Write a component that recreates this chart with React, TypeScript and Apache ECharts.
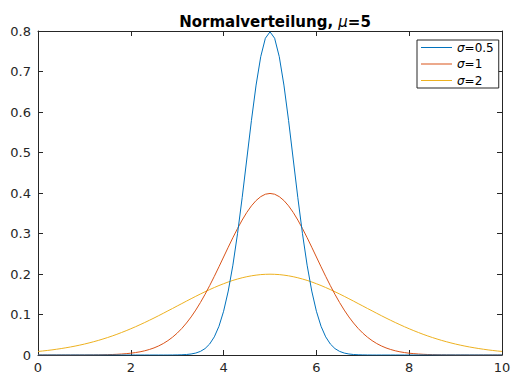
import React, { useEffect, useRef } from "react";
import * as echarts from "echarts";

const xs = [
  0.0, 0.1, 0.2, 0.3, 0.4, 0.5, 0.6, 0.7, 0.8, 0.9,
  1.0, 1.1, 1.2, 1.3, 1.4, 1.5, 1.6, 1.7, 1.8, 1.9,
  2.0, 2.1, 2.2, 2.3, 2.4, 2.5, 2.6, 2.7, 2.8, 2.9,
  3.0, 3.1, 3.2, 3.3, 3.4, 3.5, 3.6, 3.7, 3.8, 3.9,
  4.0, 4.1, 4.2, 4.3, 4.4, 4.5, 4.6, 4.7, 4.8, 4.9,
  5.0,
  5.1, 5.2, 5.3, 5.4, 5.5, 5.6, 5.7, 5.8, 5.9, 6.0,
  6.1, 6.2, 6.3, 6.4, 6.5, 6.6, 6.7, 6.8, 6.9, 7.0,
  7.1, 7.2, 7.3, 7.4, 7.5, 7.6, 7.7, 7.8, 7.9, 8.0,
  8.1, 8.2, 8.3, 8.4, 8.5, 8.6, 8.7, 8.8, 8.9, 9.0,
  9.1, 9.2, 9.3, 9.4, 9.5, 9.6, 9.7, 9.8, 9.9, 10.0,
];

const sigma05 = [
  0, 0, 0, 0, 0, 0, 0, 0, 0, 0,
  0, 0, 0, 0, 0, 0, 0, 0, 0, 0,
  0, 0, 0, 0, 0, 0, 0, 0, 0, 0.0001,
  0.0003, 0.0006, 0.0012, 0.0025, 0.0048, 0.0089, 0.0158, 0.0272, 0.0448, 0.0709,
  0.108, 0.1579, 0.2218, 0.2995, 0.3884, 0.4839, 0.5794, 0.6665, 0.7365, 0.7821,
  0.7979,
  0.7821, 0.7365, 0.6665, 0.5794, 0.4839, 0.3884, 0.2995, 0.2218, 0.1579, 0.108,
  0.0709, 0.0448, 0.0272, 0.0158, 0.0089, 0.0048, 0.0025, 0.0012, 0.0006, 0.0003,
  0.0001, 0, 0, 0, 0, 0, 0, 0, 0, 0,
  0, 0, 0, 0, 0, 0, 0, 0, 0, 0,
  0, 0, 0, 0, 0, 0, 0, 0, 0, 0,
];

const sigma1 = [
  0, 0, 0, 0, 0, 0, 0, 0, 0.0001, 0.0001,
  0.0001, 0.0002, 0.0003, 0.0004, 0.0006, 0.0009, 0.0012, 0.0017, 0.0024, 0.0033,
  0.0044, 0.006, 0.0079, 0.0104, 0.0136, 0.0175, 0.0224, 0.0283, 0.0355, 0.044,
  0.054, 0.0656, 0.079, 0.094, 0.1109, 0.1295, 0.1497, 0.1714, 0.1942, 0.2179,
  0.242, 0.2661, 0.2897, 0.3123, 0.3332, 0.3521, 0.3683, 0.3814, 0.391, 0.397,
  0.3989,
  0.397, 0.391, 0.3814, 0.3683, 0.3521, 0.3332, 0.3123, 0.2897, 0.2661, 0.242,
  0.2179, 0.1942, 0.1714, 0.1497, 0.1295, 0.1109, 0.094, 0.079, 0.0656, 0.054,
  0.044, 0.0355, 0.0283, 0.0224, 0.0175, 0.0136, 0.0104, 0.0079, 0.006, 0.0044,
  0.0033, 0.0024, 0.0017, 0.0012, 0.0009, 0.0006, 0.0004, 0.0003, 0.0002, 0.0001,
  0.0001, 0.0001, 0, 0, 0, 0, 0, 0, 0, 0,
];

const sigma2 = [
  0.0088, 0.0099, 0.0112, 0.0126, 0.0142, 0.0159, 0.0178, 0.0198, 0.022, 0.0244,
  0.027, 0.0298, 0.0328, 0.036, 0.0395, 0.0431, 0.047, 0.0511, 0.0555, 0.06,
  0.0648, 0.0697, 0.0749, 0.0802, 0.0857, 0.0913, 0.0971, 0.103, 0.109, 0.1149,
  0.121, 0.127, 0.1331, 0.139, 0.1449, 0.1506, 0.1562, 0.1615, 0.1666, 0.1715,
  0.176, 0.1803, 0.1842, 0.1876, 0.1907, 0.1933, 0.1955, 0.1972, 0.1985, 0.1992,
  0.1995,
  0.1992, 0.1985, 0.1972, 0.1955, 0.1933, 0.1907, 0.1876, 0.1842, 0.1803, 0.176,
  0.1715, 0.1666, 0.1615, 0.1562, 0.1506, 0.1449, 0.139, 0.1331, 0.127, 0.121,
  0.1149, 0.109, 0.103, 0.0971, 0.0913, 0.0857, 0.0802, 0.0749, 0.0697, 0.0648,
  0.06, 0.0555, 0.0511, 0.047, 0.0431, 0.0395, 0.036, 0.0328, 0.0298, 0.027,
  0.0244, 0.022, 0.0198, 0.0178, 0.0159, 0.0142, 0.0126, 0.0112, 0.0099, 0.0088,
];

const seriesNames = ["σ=0.5", "σ=1", "σ=2"];
const seriesValues = [sigma05, sigma1, sigma2];
const colors = ["#0072BD", "#D95319", "#EDB120"];
const titleText = "Normalverteilung, {i|μ}=5";

const FONT = "DejaVu Sans, sans-serif";
const AX = "#262626";

export default function App() {
  const ref = useRef<HTMLDivElement>(null);
  useEffect(() => {
    if (!ref.current) return;
    const chart = echarts.init(ref.current, undefined, { renderer: "svg" });
    const axisCommon = {
      axisLine: { show: true, onZero: false, lineStyle: { color: AX, width: 1 } },
      axisTick: { show: true, inside: true, length: 5, lineStyle: { color: AX } },
      splitLine: { show: false },
    };
    chart.setOption({
      animation: false,
      backgroundColor: "#ffffff",
      color: colors,
      title: {
        text: titleText,
        left: 270,
        textAlign: "center",
        top: 9,
        textStyle: {
          fontFamily: FONT,
          fontSize: 15,
          fontWeight: "bold",
          color: "#000",
          rich: {
            i: { fontFamily: FONT, fontSize: 15, fontStyle: "italic", fontWeight: "normal", color: "#000" },
          },
        },
      },
      legend: {
        orient: "vertical",
        left: 417,
        top: 40,
        padding: [0, 5, 0, 4],
        itemGap: 1.5,
        itemWidth: 31,
        itemHeight: 1,
        icon: "rect",
        borderColor: AX,
        borderWidth: 1,
        backgroundColor: "#ffffff",
        data: seriesNames,
        formatter: (name: string) => "{i|σ}" + name.slice(1),
        textStyle: {
          fontFamily: FONT,
          fontSize: 12,
          lineHeight: 15,
          color: "#000",
          rich: {
            i: { fontFamily: FONT, fontSize: 12, lineHeight: 15, fontStyle: "italic", color: "#000" },
          },
        },
      },
      grid: { left: 38, right: 18, top: 31, bottom: 25, containLabel: false },
      xAxis: [
        {
          type: "value",
          min: 0,
          max: 10,
          interval: 2,
          position: "bottom",
          ...axisCommon,
          axisLabel: { fontFamily: FONT, fontSize: 13, color: AX, margin: 6 },
        },
        {
          type: "value",
          min: 0,
          max: 10,
          interval: 2,
          position: "top",
          ...axisCommon,
          axisLabel: { show: false },
        },
      ],
      yAxis: [
        {
          type: "value",
          min: 0,
          max: 0.8,
          interval: 0.1,
          position: "left",
          ...axisCommon,
          axisLabel: { fontFamily: FONT, fontSize: 13, color: AX, margin: 7 },
        },
        {
          type: "value",
          min: 0,
          max: 0.8,
          interval: 0.1,
          position: "right",
          ...axisCommon,
          axisLabel: { show: false },
        },
      ],
      series: seriesNames.map((name, k) => ({
        name,
        type: "line",
        xAxisIndex: 0,
        yAxisIndex: 0,
        showSymbol: false,
        symbol: "none",
        smooth: false,
        lineStyle: { width: 1, color: colors[k] },
        itemStyle: { color: colors[k] },
        data: xs.map((x, i) => [x, seriesValues[k][i]]),
        z: 3 - k,
      })),
    });
    return () => chart.dispose();
  }, []);
  return <div ref={ref} style={{ width: 520, height: 380, margin: -8 }} />;
}
